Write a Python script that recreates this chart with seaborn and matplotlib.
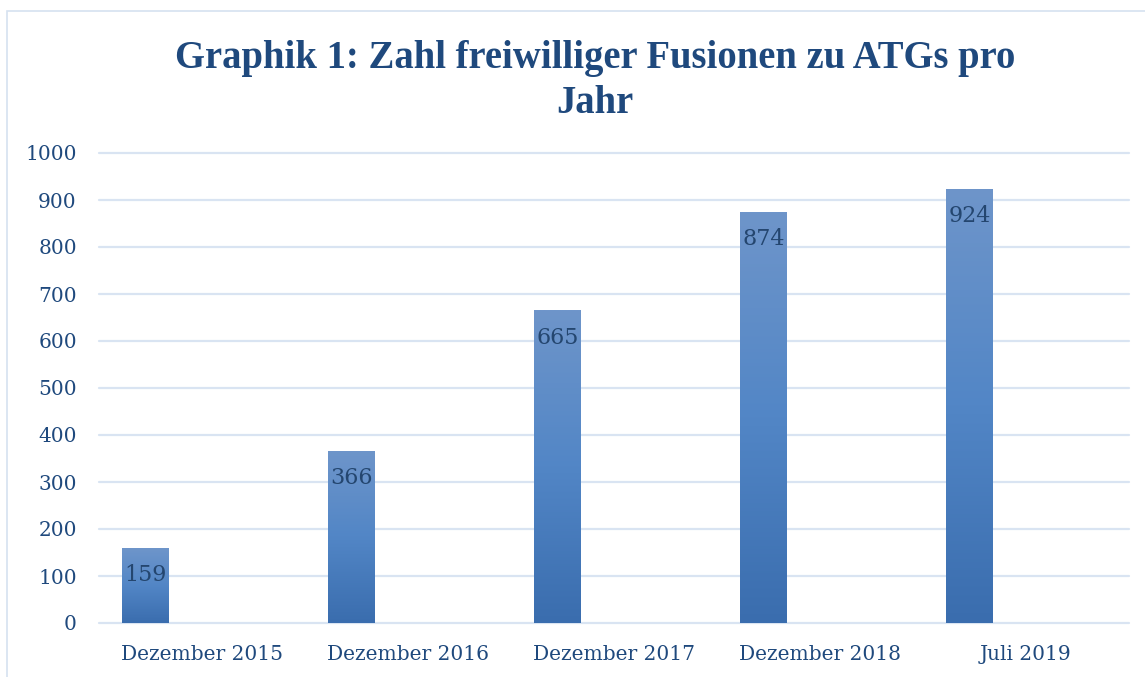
import numpy as np
import pandas as pd
import matplotlib
matplotlib.use("Agg")
import matplotlib.pyplot as plt
import seaborn as sns
from matplotlib.patches import Rectangle
from matplotlib.colors import LinearSegmentedColormap

# ---- data ----
categories = ["Dezember 2015", "Dezember 2016", "Dezember 2017", "Dezember 2018", "Juli 2019"]
values = [159, 366, 665, 874, 924]
y_ticks = [0, 100, 200, 300, 400, 500, 600, 700, 800, 900, 1000]
title_text = "Graphik 1: Zahl freiwilliger Fusionen zu ATGs pro\nJahr"

TEXT = "#1F497D"
GRID = "#D9E4F2"

sns.set_theme(style="white")
plt.rcParams['font.family'] = ['DejaVu Serif']

W, H = 1145, 677
fig = plt.figure(figsize=(W / 100, H / 100), dpi=100)
ax = fig.add_axes([99 / W, 1 - 623 / H, 1030 / W, 470 / H])

df = pd.DataFrame({"Kategorie": categories, "Fusionen": values})
sns.barplot(data=df, x="Kategorie", y="Fusionen", ax=ax, width=0.228,
            color="#4F81BD", saturation=1, errorbar=None, zorder=2)

# bars sit in the left part of each category slot (as in the original chart)
offset = -0.274
for p in ax.patches:
    p.set_x(p.get_x() + offset)

# vertical gradient fill per bar
cmap = LinearSegmentedColormap.from_list("g", ["#3A6DAE", "#5286C6", "#6E95CA"])
grad = np.linspace(0, 1, 256).reshape(-1, 1)
for p in ax.patches:
    x0, w, h = p.get_x(), p.get_width(), p.get_height()
    im = ax.imshow(grad, extent=[x0, x0 + w, 0, h], origin="lower",
                   aspect="auto", cmap=cmap, zorder=2)
    im.set_clip_path(p)
    p.set_facecolor("none")
    p.set_edgecolor("none")

ax.set_xlim(-0.5, 4.5)
ax.set_ylim(0, 1000)
ax.set_yticks(y_ticks)
ax.set_xlabel("")
ax.set_ylabel("")

for s in ax.spines.values():
    s.set_visible(False)
ax.yaxis.grid(True, color=GRID, linewidth=1.6)
ax.xaxis.grid(False)
ax.set_axisbelow(True)
for gl in ax.get_ygridlines():
    gl.set_clip_on(False)

ax.tick_params(axis="both", length=0, colors=TEXT, labelsize=14.5)
ax.tick_params(axis="y", pad=16)
ax.tick_params(axis="x", pad=16)

# data labels inside the bar tops
ax.bar_label(ax.containers[0], labels=[str(v) for v in values],
             padding=-27.5, color="#24466F", fontsize=16)

fig.text(595 / W, 1 - 40 / H, title_text, ha="center", va="top",
         fontsize=27.8, fontweight="bold", family="Liberation Serif",
         color=TEXT, linespacing=1.28)

fig.add_artist(Rectangle((7 / W, -0.1), 1.2, 1 - 11 / H + 0.1,
                         transform=fig.transFigure, fill=False,
                         edgecolor="#D6E2F0", lw=1.2))

fig.savefig("out.png", dpi=100)
